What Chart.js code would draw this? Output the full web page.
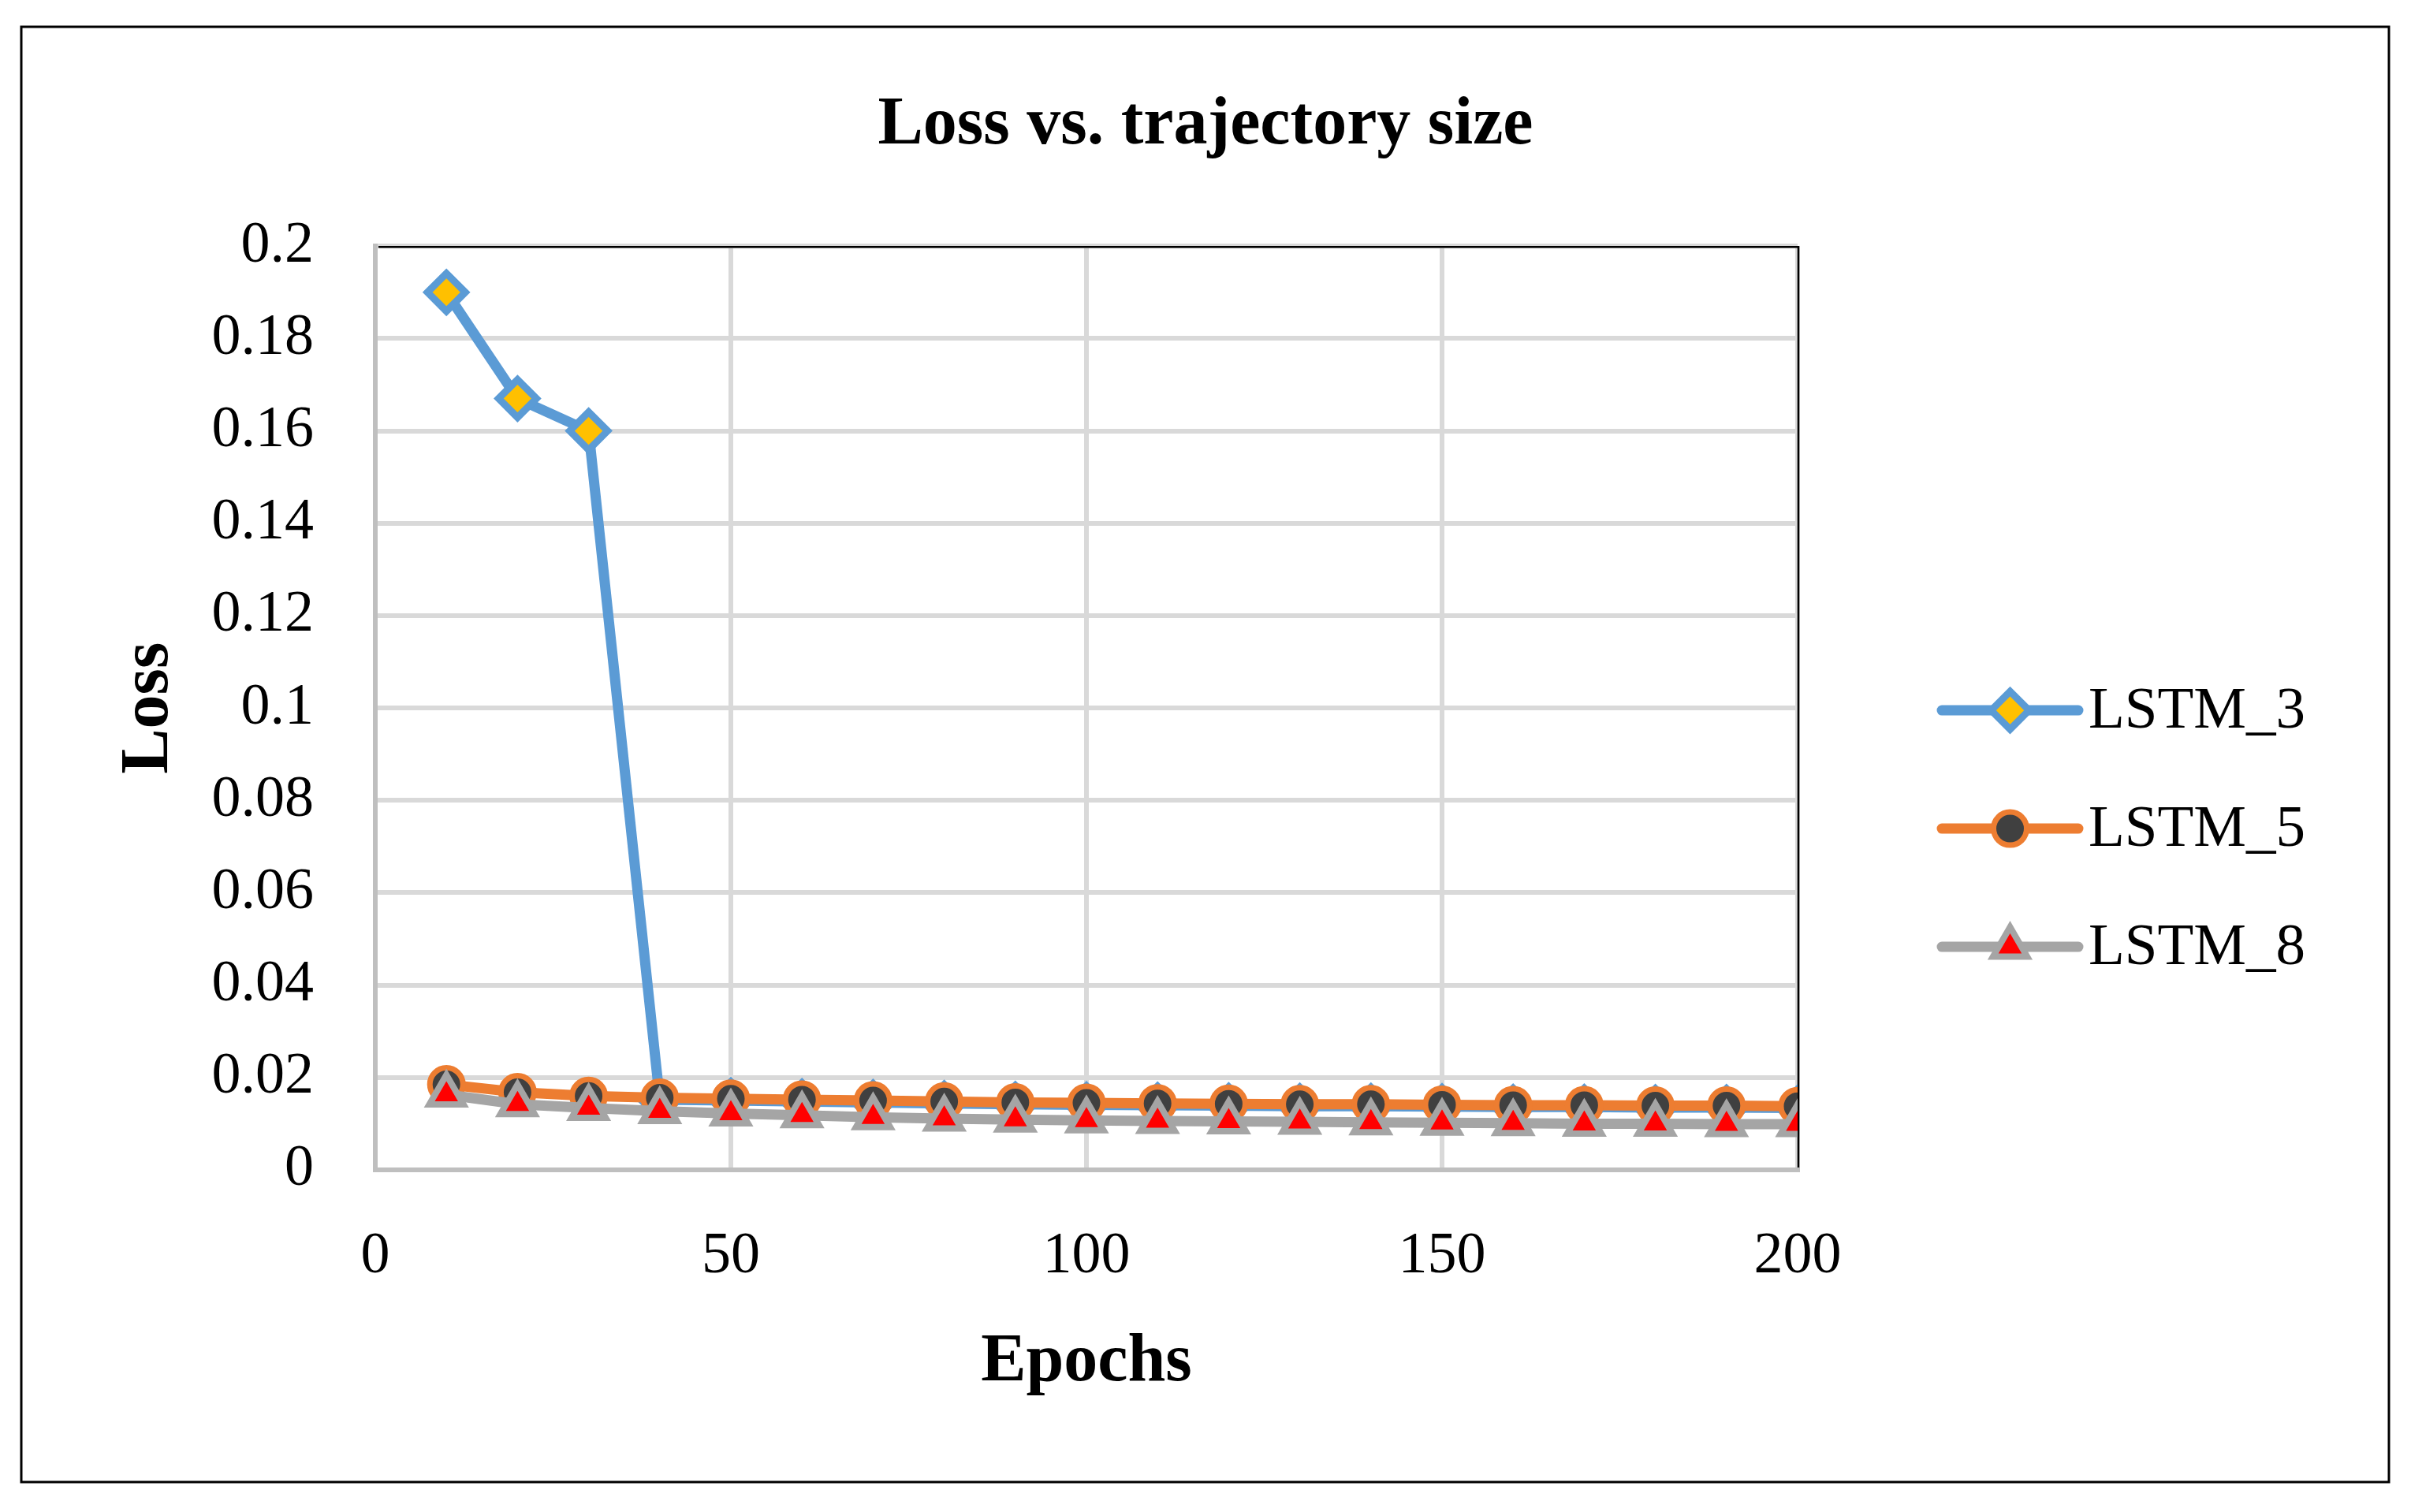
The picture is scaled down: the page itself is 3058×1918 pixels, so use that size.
<!DOCTYPE html>
<html>
<head>
<meta charset="utf-8">
<script src="https://cdn.jsdelivr.net/npm/chart.js@4"></script>
<style>
  html, body { margin: 0; padding: 0; background: #fff; }
  canvas { display: block; }
</style>
</head>
<body>
<canvas id="myChart" width="3058" height="1918"></canvas>
<script>
// values
const epochs = [10, 20, 30, 40, 50, 60, 70, 80, 90, 100, 110, 120, 130, 140, 150, 160, 170, 180, 190, 200];
const lstm3 = [0.19, 0.167, 0.16, 0.0152, 0.015, 0.0148, 0.0146, 0.0144, 0.0142, 0.0141, 0.014, 0.0139, 0.0138, 0.0138, 0.0137, 0.0136, 0.0136, 0.0135, 0.0135, 0.0134];
const lstm5 = [0.0185, 0.0168, 0.016, 0.0156, 0.0154, 0.0152, 0.015, 0.0148, 0.0146, 0.0145, 0.0144, 0.0143, 0.0142, 0.0142, 0.0141, 0.014, 0.014, 0.0139, 0.0139, 0.0138];
const lstm8 = [0.0163, 0.0142, 0.0134, 0.0127, 0.0122, 0.0118, 0.0114, 0.0111, 0.0109, 0.0107, 0.0106, 0.0105, 0.0104, 0.0103, 0.0102, 0.0101, 0.01, 0.01, 0.0099, 0.0099];
const xTicks = [0, 50, 100, 150, 200];
const yTicks = [0, 0.02, 0.04, 0.06, 0.08, 0.1, 0.12, 0.14, 0.16, 0.18, 0.2];

const FONT = "'Liberation Serif', 'Times New Roman', serif";

function pts(ys) {
  return ys.map((y, i) => ({ x: epochs[i], y: y }));
}

// white background, outer frame, black top/right edge of the plot area
const framePlugin = {
  id: 'frame',
  beforeDraw(chart) {
    const ctx = chart.ctx;
    ctx.save();
    ctx.fillStyle = '#fff';
    ctx.fillRect(0, 0, chart.width, chart.height);
    ctx.strokeStyle = '#000';
    ctx.lineWidth = 3;
    ctx.strokeRect(27, 34, 3003, 1846);
    ctx.restore();
  },
  beforeDatasetsDraw(chart) {
    const a = chart.chartArea;
    const ctx = chart.ctx;
    ctx.save();
    ctx.strokeStyle = '#000';
    ctx.lineWidth = 2.5;
    ctx.beginPath();
    ctx.moveTo(a.left + 4, a.top + 1);
    ctx.lineTo(a.right + 1, a.top + 1);
    ctx.lineTo(a.right + 1, a.bottom - 3);
    ctx.stroke();
    ctx.restore();
  }
};

// legend: line sample with the marker in the middle, like the original
const legendPlugin = {
  id: 'sideLegend',
  afterDraw(chart) {
    const a = chart.chartArea;
    const ctx = chart.ctx;
    const mid = (a.top + a.bottom) / 2;
    chart.data.datasets.forEach((ds, i) => {
      const y = mid + i * 150 + 3;
      const x0 = a.right + 183, x1 = a.right + 356;
      ctx.save();
      ctx.strokeStyle = ds.borderColor;
      ctx.lineWidth = ds.borderWidth;
      ctx.lineCap = 'round';
      ctx.beginPath();
      ctx.moveTo(x0, y);
      ctx.lineTo(x1, y);
      ctx.stroke();
      ctx.fillStyle = ds.pointBackgroundColor;
      ctx.strokeStyle = ds.pointBorderColor;
      ctx.lineWidth = ds.pointBorderWidth;
      Chart.helpers.drawPoint(ctx, {
        pointStyle: ds.pointStyle,
        radius: ds.pointRadius,
        rotation: 0,
        borderWidth: ds.pointBorderWidth
      }, (x0 + x1) / 2, y);
      ctx.fillStyle = '#000';
      ctx.font = '75px ' + FONT;
      ctx.textAlign = 'left';
      ctx.textBaseline = 'middle';
      ctx.fillText(ds.label, x1 + 13, y + 2);
      ctx.restore();
    });
  }
};

const CHART = document.getElementById('myChart');
let lineChart = new Chart(CHART, {
  type: 'line',
  data: {
    datasets: [{
      label: 'LSTM_3',
      data: pts(lstm3),
      borderColor: '#5b9bd5',
      borderWidth: 13,
      pointStyle: 'rectRot',
      pointRadius: 24,
      pointBorderWidth: 9,
      pointBackgroundColor: '#ffc000',
      pointBorderColor: '#5b9bd5',
      order: 2
    }, {
      label: 'LSTM_5',
      data: pts(lstm5),
      borderColor: '#ed7d31',
      borderWidth: 13,
      pointStyle: 'circle',
      pointRadius: 21,
      pointBorderWidth: 7,
      pointBackgroundColor: '#404040',
      pointBorderColor: '#ed7d31',
      order: 1
    }, {
      label: 'LSTM_8',
      data: pts(lstm8),
      borderColor: '#a5a5a5',
      borderWidth: 13,
      pointStyle: 'triangle',
      pointRadius: 25,
      pointBorderWidth: 8,
      pointBackgroundColor: '#ff0000',
      pointBorderColor: '#a5a5a5',
      order: 0
    }]
  },
  options: {
    responsive: false,
    devicePixelRatio: 1,
    animation: false,
    events: [],
    elements: {
      line: { tension: 0, fill: false, borderJoinStyle: 'round', borderCapStyle: 'round' },
      point: { hoverRadius: 0 }
    },
    layout: { padding: { top: 40, left: 60, right: 60, bottom: 100 } },
    plugins: {
      legend: { display: false },
      tooltip: { enabled: false },
      title: {
        display: true,
        text: 'Loss vs. trajectory size',
        color: '#000',
        font: { family: FONT, size: 86, weight: 'bold' },
        padding: { top: 68, bottom: 101 }
      }
    },
    scales: {
      x: {
        type: 'linear',
        min: 0,
        max: 200,
        afterBuildTicks: s => { s.ticks = xTicks.map(v => ({ value: v })); },
        afterFit: s => { s.height = 334; },
        grid: { color: '#d9d9d9', lineWidth: 6, drawTicks: false },
        border: { color: '#bfbfbf', width: 6 },
        ticks: {
          color: '#000',
          padding: 66,
          maxRotation: 0,
          font: { family: FONT, size: 74 },
          callback: v => String(v)
        },
        title: {
          display: true,
          text: 'Epochs',
          color: '#000',
          font: { family: FONT, size: 86, weight: 'bold' },
          padding: { top: 0, bottom: 38 }
        }
      },
      y: {
        type: 'linear',
        position: 'left',
        min: 0,
        max: 0.2,
        afterBuildTicks: s => { s.ticks = yTicks.map(v => ({ value: v })); },
        afterFit: s => { s.width = 416; },
        grid: { color: '#d9d9d9', lineWidth: 6, drawTicks: false },
        border: { color: '#bfbfbf', width: 6 },
        ticks: {
          color: '#000',
          padding: 78,
          font: { family: FONT, size: 74 },
          callback: v => String(v)
        },
        title: {
          display: true,
          text: 'Loss',
          color: '#000',
          font: { family: FONT, size: 86, weight: 'bold' },
          padding: { top: 78, bottom: 0 }
        }
      },
      // empty right axis that only keeps room for the legend
      yR: {
        type: 'linear',
        position: 'right',
        display: true,
        afterFit: s => { s.width = 718; },
        grid: { display: false, drawTicks: false },
        border: { display: false },
        ticks: { display: false }
      }
    }
  },
  plugins: [framePlugin, legendPlugin]
});
</script>
</body>
</html>
